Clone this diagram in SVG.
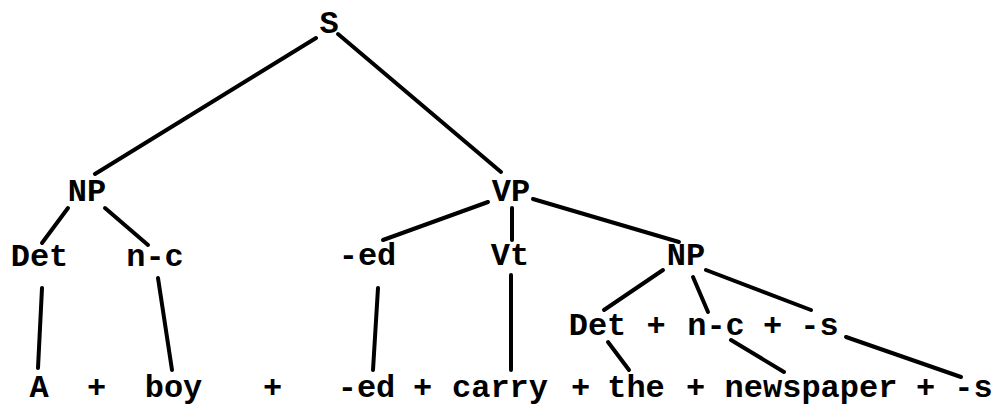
<svg xmlns="http://www.w3.org/2000/svg" width="996" height="406" viewBox="0 0 996 406">
<style>
text{font-family:"Liberation Mono","Courier New",monospace;font-size:32px;font-weight:bold;fill:#000;text-anchor:middle}
.c line{stroke:#000;stroke-width:4;stroke-linecap:round}
</style>
<rect width="996" height="406" fill="#fff"/>
<g class="c" id="connectors">
<line x1="316" y1="38" x2="95" y2="174"/>
<line x1="338" y1="34" x2="501" y2="172"/>
<line x1="68" y1="208" x2="42" y2="243"/>
<line x1="105" y1="208" x2="148" y2="245"/>
<line x1="488" y1="202" x2="383" y2="240"/>
<line x1="512" y1="208" x2="512" y2="240"/>
<line x1="533" y1="199" x2="679" y2="242"/>
<line x1="42" y1="288" x2="38" y2="368"/>
<line x1="158" y1="278" x2="172" y2="370"/>
<line x1="378" y1="288" x2="373" y2="370"/>
<line x1="511" y1="275" x2="511" y2="370"/>
<line x1="663" y1="270" x2="604" y2="310"/>
<line x1="693" y1="277" x2="708" y2="312"/>
<line x1="706" y1="270" x2="811" y2="310"/>
<line x1="608" y1="342" x2="629" y2="370"/>
<line x1="731" y1="340" x2="784" y2="372"/>
<line x1="846" y1="337" x2="961" y2="377"/>
</g>
<g id="S"><text x="329" y="33">S</text></g>
<g id="NP1"><text x="87" y="201">NP</text></g>
<g id="VP"><text x="511" y="201">VP</text></g>
<g id="Det1"><text x="39.5" y="266">Det</text></g>
<g id="nc1"><text x="155" y="266">n-c</text></g>
<g id="ed1"><text x="367.5" y="265">-ed</text></g>
<g id="Vt"><text x="510" y="265">Vt</text></g>
<g id="NP2"><text x="686" y="265">NP</text></g>
<g id="Det2"><text x="597.5" y="335">Det</text></g>
<text x="656" y="335">+</text>
<g id="nc2"><text x="716" y="335">n-c</text></g>
<text x="772.5" y="335">+</text>
<g id="s1"><text x="819.5" y="335">-s</text></g>
<g id="A"><text x="39" y="397">A</text></g>
<text x="96.5" y="397">+</text>
<g id="boy"><text x="173.5" y="397">boy</text></g>
<text x="272.5" y="397">+</text>
<g id="ed2"><text x="366.5" y="397">-ed</text></g>
<text x="422.5" y="397">+</text>
<g id="carry"><text x="500" y="397">carry</text></g>
<text x="580.5" y="397">+</text>
<g id="the"><text x="636" y="397">the</text></g>
<text x="695.5" y="397">+</text>
<g id="newspaper"><text x="811" y="397">newspaper</text></g>
<text x="925.5" y="397">+</text>
<g id="s2"><text x="973.5" y="397">-s</text></g>
</svg>
